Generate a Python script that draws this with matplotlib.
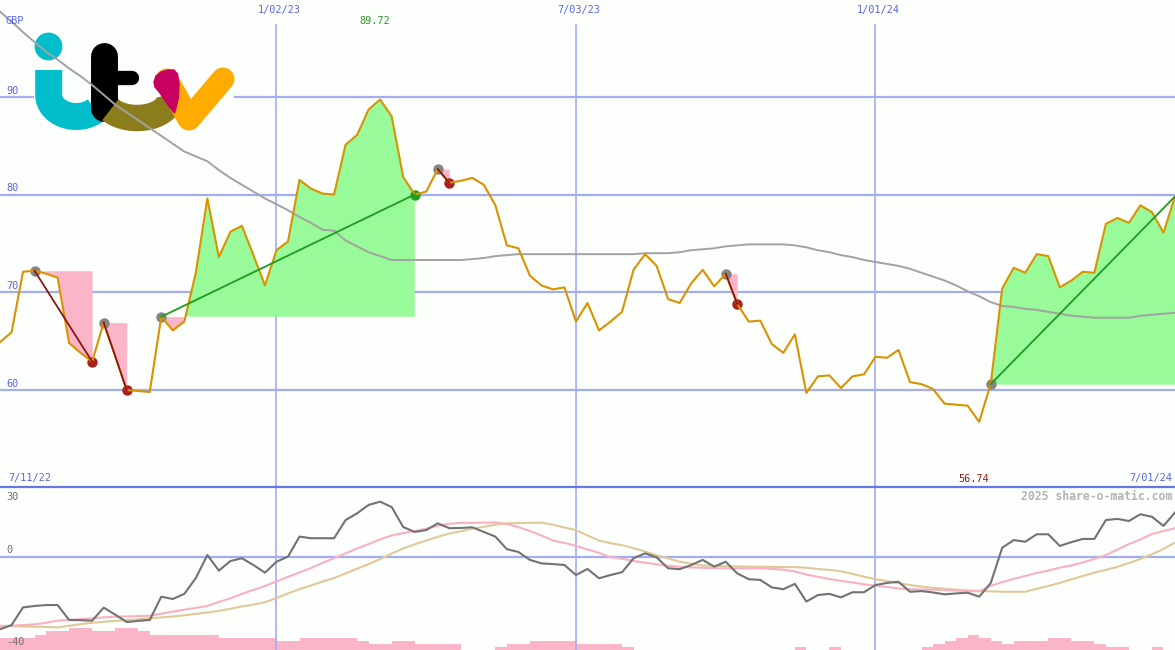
import numpy as np
import matplotlib
matplotlib.use('Agg')
from matplotlib import pyplot as plt
from matplotlib.transforms import Affine2D, blended_transform_factory
from matplotlib.patches import Circle, Rectangle, Polygon
from matplotlib.lines import Line2D

## weekly closes, week 1 = 18/07/22 ... week 103 = 1/07/24
price = [64.9, 65.9, 72.1, 72.2, 71.9, 71.5, 64.8, 63.8, 62.9, 66.9,
         63.5, 60.0, 59.9, 59.8, 67.5, 66.1, 67.0, 72.0, 79.6, 73.6,
         76.2, 76.8, 73.8, 70.7, 74.3, 75.2, 81.5, 80.6, 80.1, 80.0,
         85.1, 86.1, 88.7, 89.72, 88.0, 81.8, 80.0, 80.3, 82.6, 81.2,
         81.4, 81.7, 81.0, 78.9, 74.8, 74.5, 71.7, 70.7, 70.3, 70.5,
         67.0, 68.9, 66.1, 67.0, 68.0, 72.3, 73.9, 72.7, 69.3, 68.9,
         70.9, 72.3, 70.6, 71.9, 68.8, 67.0, 67.1, 64.7, 63.8, 65.7,
         59.7, 61.4, 61.5, 60.2, 61.4, 61.6, 63.4, 63.3, 64.1, 60.8,
         60.6, 60.1, 58.6, 58.5, 58.4, 56.74, 60.6, 70.4, 72.5, 72.0,
         73.9, 73.7, 70.5, 71.2, 72.1, 72.0, 77.0, 77.6, 77.1, 78.9,
         78.2, 76.1, 79.8]

price_ma = [98.7, 97.7, 96.6, 95.6, 94.6, 93.8, 92.9, 92.1, 91.2, 90.2,
            89.2, 88.4, 87.6, 86.8, 86.0, 85.2, 84.4, 83.9, 83.4, 82.5,
            81.7, 81.0, 80.3, 79.6, 79.0, 78.4, 77.7, 77.1, 76.4, 76.3,
            75.3, 74.7, 74.1, 73.7, 73.3, 73.3, 73.3, 73.3, 73.3, 73.3,
            73.3, 73.4, 73.5, 73.7, 73.8, 73.9, 73.9, 73.9, 73.9, 73.9,
            73.9, 73.9, 73.9, 73.9, 73.9, 73.9, 74.0, 74.0, 74.0, 74.1,
            74.3, 74.4, 74.5, 74.7, 74.8, 74.9, 74.9, 74.9, 74.9, 74.8,
            74.6, 74.3, 74.1, 73.8, 73.6, 73.3, 73.1, 72.9, 72.7, 72.4,
            72.0, 71.6, 71.2, 70.7, 70.1, 69.6, 69.0, 68.6, 68.5, 68.3,
            68.2, 68.0, 67.8, 67.6, 67.5, 67.4, 67.4, 67.4, 67.4, 67.6,
            67.7, 67.8, 67.9]

osc = [-31.1, -29.3, -21.7, -21.1, -20.7, -20.7, -27.1, -27.2, -27.4, -21.8,
       -24.8, -28.0, -27.5, -27.1, -17.1, -18.1, -15.9, -9.1, 0.8, -5.9,
       -1.8, -0.6, -3.5, -6.8, -2.1, 0.1, 8.7, 8.0, 8.0, 8.0,
       15.8, 18.7, 22.3, 23.7, 21.4, 12.8, 10.7, 11.5, 14.4, 12.3,
       12.4, 12.7, 10.7, 8.7, 3.3, 2.1, -1.3, -2.8, -3.1, -3.5,
       -7.8, -5.2, -9.2, -7.8, -6.6, -0.6, 1.5, -0.2, -4.9, -5.3,
       -3.5, -1.3, -4.2, -2.1, -7.1, -9.6, -9.9, -13.1, -13.9, -11.6,
       -19.2, -16.4, -15.9, -17.4, -15.2, -15.2, -12.1, -11.2, -10.7, -15.0,
       -14.7, -15.3, -16.1, -15.7, -15.4, -17.1, -11.3, 3.9, 7.2, 6.5,
       9.7, 9.7, 4.7, 6.3, 7.7, 7.7, 15.8, 16.3, 15.4, 18.3,
       17.2, 13.3, 19.0]

osc_fast = [-30.0, -29.6, -29.3, -29.0, -28.3, -27.4, -27.1, -26.7, -26.4, -26.0,
            -25.7, -25.6, -25.4, -25.3, -24.4, -23.5, -22.7, -21.9, -21.1, -19.4,
            -17.8, -15.9, -14.2, -12.5, -10.6, -8.6, -6.7, -4.8, -2.6, -0.5,
            1.5, 3.6, 5.5, 7.5, 9.2, 10.2, 11.1, 12.1, 13.3, 14.2,
            14.6, 14.6, 14.7, 14.8, 14.1, 12.8, 11.1, 9.2, 7.0, 6.0,
            4.7, 3.2, 1.7, -0.2, -0.8, -1.8, -2.5, -3.2, -3.8, -4.3,
            -4.5, -4.7, -4.9, -4.9, -4.9, -4.9, -4.9, -5.2, -5.5, -6.3,
            -7.6, -8.6, -9.5, -10.3, -11.0, -11.8, -12.4, -12.9, -13.6, -13.9,
            -14.0, -14.1, -14.2, -14.5, -14.7, -14.8, -12.5, -10.8, -9.5, -8.2,
            -6.9, -5.9, -4.6, -3.7, -2.4, -0.9, 0.8, 3.1, 5.5, 7.5,
            9.8, 11.1, 12.3]

osc_slow = [-29.6, -29.7, -29.9, -30.0, -30.1, -30.3, -29.6, -28.9, -28.3, -27.9,
            -27.5, -27.1, -26.8, -26.4, -26.0, -25.6, -25.1, -24.5, -23.9, -23.2,
            -22.3, -21.3, -20.5, -19.5, -17.7, -15.7, -13.9, -12.3, -10.6, -9.1,
            -7.1, -5.1, -3.1, -1.0, 1.4, 3.6, 5.4, 7.0, 8.6, 10.0,
            11.0, 12.1, 12.9, 13.8, 14.4, 14.5, 14.6, 14.7, 13.8, 12.6,
            11.5, 9.2, 7.0, 5.9, 5.0, 3.7, 2.3, 0.7, -0.7, -2.1,
            -2.9, -3.7, -3.9, -4.0, -4.1, -4.2, -4.3, -4.3, -4.4, -4.4,
            -4.7, -5.2, -5.6, -6.2, -7.3, -8.5, -9.6, -10.4, -11.3, -12.1,
            -12.8, -13.3, -13.7, -14.1, -14.4, -14.6, -14.8, -15.0, -15.0, -15.0,
            -13.7, -12.5, -11.2, -9.7, -8.2, -6.8, -5.6, -4.3, -2.6, -0.9,
            1.1, 3.4, 6.1]

## bottom pink bars, one per week interval
vol = [5.0, 5.0, 5.0, 6.4, 8.2, 8.2, 9.6, 9.6, 8.2, 8.2,
       9.6, 9.6, 8.2, 6.4, 6.4, 6.4, 6.4, 6.4, 6.4, 5.0,
       5.0, 5.0, 5.0, 5.0, 3.9, 3.9, 5.0, 5.0, 5.0, 5.0,
       5.0, 3.9, 2.6, 2.6, 3.9, 3.9, 2.6, 2.6, 2.6, 2.6,
       0, 0, 0, 1.4, 2.6, 2.6, 3.9, 3.9, 3.9, 3.9,
       2.6, 2.6, 2.6, 2.6, 1.4, 0, 0, 0, 0, 0,
       0, 0, 0, 0, 0, 0, 0, 0, 0, 1.2,
       0, 0, 1.2, 0, 0, 0, 0, 0, 0, 0,
       1.2, 2.6, 3.9, 5.0, 6.4, 5.0, 3.9, 2.6, 3.9, 3.9,
       3.9, 5.0, 5.0, 3.9, 3.9, 2.6, 1.2, 1.2, 0, 0,
       1.2, 0]

## trades: start week, end week, type, closed?
sig_start = [4, 10, 15, 39, 64, 87]
sig_end = [9, 12, 37, 40, 65, 103]
sig_type = ['sell', 'sell', 'buy', 'sell', 'sell', 'buy']
sig_closed = [True, True, True, True, True, False]

date_weeks = [25, 51, 77]
date_labels = ['1/02/23', '7/03/23', '1/01/24']
price_ticks = [60, 70, 80, 90]
osc_ticks = [30, 0, -40]
first_date, last_date = '7/11/22', '7/01/24'

W, H = 1175, 650
split = 487
bg = '#fcfffc'
grid_c = '#a3adf2'
blue_txt = '#5866e6'
mono = 'DejaVu Sans Mono'

fig = plt.figure(figsize=(W / 100, H / 100), dpi=100)
fig.patch.set_facecolor(bg)
px = Affine2D().scale(1 / W, -1 / H).translate(0, 1) + fig.transFigure

ax1 = fig.add_axes([0, (H - split) / H, 1, split / H])
ax2 = fig.add_axes([0, 0, 1, (H - split) / H])
for ax in (ax1, ax2):
    ax.axis('off')

weeks = np.arange(1, len(price) + 1)
price = np.array(price)

## top panel grid
for v in price_ticks:
    ax1.axhline(v, color=grid_c, lw=1.6, zorder=1)
for w in date_weeks:
    ax1.axvline(w, ymin=0, ymax=(split - 25) / split, color=grid_c, lw=1.2, zorder=1)

## logo
ax1.add_patch(Rectangle((34, 33), 200, 104, transform=px, facecolor=bg, edgecolor='none', zorder=2))
teal, olive, magenta, amber = '#00bdcb', '#8b7c1c', '#c8005f', '#ffab00'
ax1.add_patch(Circle((48.5, 46.5), 13.2, transform=px, color=teal, zorder=2.1))
t = np.linspace(np.pi, 0.25 * np.pi, 40)
ax1.add_line(Line2D(np.r_[48.7, 76.2 + 27.5 * np.cos(t)], np.r_[70, 95 + 21.5 * np.sin(t)],
                    transform=px, color=teal, lw=19.4, solid_capstyle='butt', zorder=2.1))
ax1.add_line(Line2D([103.7, 103.7], [56, 108], transform=px, color='black', lw=19.4,
                    solid_capstyle='round', zorder=2.2))
ax1.add_line(Line2D([104, 132], [78, 78], transform=px, color='black', lw=10.3,
                    solid_capstyle='round', zorder=2.2))
t = np.linspace(0.8 * np.pi, -0.05 * np.pi, 40)
ax1.add_line(Line2D(137 + 33 * np.cos(t), 98 + 20 * np.sin(t), transform=px, color=olive,
                    lw=19.0, solid_capstyle='butt', zorder=2.3))
ax1.add_line(Line2D([167, 189, 223], [80, 119, 79], transform=px, color=amber, lw=16.6,
                    solid_capstyle='round', solid_joinstyle='round', zorder=2.4))
ax1.add_patch(Polygon([(154, 82), (156, 76), (161, 72), (168, 70), (174, 70), (177.5, 74),
                       (179, 84), (178.5, 97), (176, 108), (174.5, 113), (168, 105),
                       (160, 93), (155, 87)], closed=True, transform=px, color=magenta, zorder=2.5))

## trade fills, lines and markers
pink, green = '#fab5c9', '#98fa98'
for s, e, kind, closed in zip(sig_start, sig_end, sig_type, sig_closed):
    xs = weeks[s - 1:e]
    ys = price[s - 1:e]
    lvl = price[s - 1]
    ax1.fill_between(xs, ys, lvl, where=ys >= lvl, interpolate=True, color=green, lw=0, zorder=3)
    ax1.fill_between(xs, ys, lvl, where=ys <= lvl, interpolate=True, color=pink, lw=0, zorder=3)
    lc = '#1f9a1f' if kind == 'buy' else '#8e1414'
    ax1.plot([s, e], [price[s - 1], price[e - 1]], color=lc, lw=1.3, zorder=6)
    ax1.plot(s, price[s - 1], 'o', color='#858585', ms=7.5, mec='none', zorder=4.5)
    if closed:
        mc = '#22a022' if kind == 'buy' else '#aa2020'
        ax1.plot(e, price[e - 1], 'o', color=mc, ms=7.5, mec='none', zorder=4.5)

ax1.plot(weeks, price_ma, color='#a2a2a2', lw=1.4, zorder=4)
ax1.plot(weeks, price, color='#d99200', lw=1.5, zorder=5)

ax1.set_xlim(1, 103)
ax1.set_ylim(50.08, 99.9)

## bottom panel
ax2.bar(np.arange(1, len(vol) + 1), vol, width=1, bottom=-40, align='edge', color=pink, lw=0, zorder=1)
ax2.axhline(0, color=grid_c, lw=1.6, zorder=1.5)
for w in date_weeks:
    ax2.axvline(w, color=grid_c, lw=1.2, zorder=1.5)
ax2.plot(weeks, osc_slow, color='#e0c999', lw=1.5, zorder=2)
ax2.plot(weeks, osc_fast, color='#fbb0c2', lw=1.5, zorder=2.1)
ax2.plot(weeks, osc, color='#727272', lw=1.5, zorder=2.2)
ax2.set_xlim(1, 103)
ax2.set_ylim(-40, 30)

fig.add_artist(Line2D([0, W], [split, split], transform=px, color='#6676e6', lw=1.6))

## texts
fs = 7.4
fig.text(6, 21.5, 'GBP', transform=px, ha='left', va='center', color=blue_txt, fontsize=fs, family=mono, zorder=1)
for v in price_ticks:
    ax1.text(6, 390 - (v - 60) * 9.777 - 6, str(v), transform=px, ha='left', va='center',
             color=blue_txt, fontsize=fs, family=mono, zorder=1.5)
bt1 = blended_transform_factory(ax1.transData, px)
for w, lab in zip(date_weeks, date_labels):
    ax1.text(w + 0.27, 9.5, lab, transform=bt1, ha='center', va='center', color=blue_txt,
             fontsize=fs, family=mono)
kmax = int(np.argmax(price)) + 1
kmin = int(np.argmin(price)) + 1
ax1.text(kmax - 0.5, 21, f'{price.max():.2f}', transform=bt1, ha='center', va='center',
         color='#2a9a2a', fontsize=fs, family=mono)
fig.text(8, 478.5, first_date, transform=px, ha='left', va='center', color=blue_txt, fontsize=fs, family=mono)
fig.text(1172, 478.5, last_date, transform=px, ha='right', va='center', color=blue_txt, fontsize=fs, family=mono)
bt2 = blended_transform_factory(ax2.transData, px)
fig.text(0, 0, '')
ax2.text(kmin - 0.5, 478.5, f'{price.min():.2f}', transform=bt2, ha='center', va='center',
         color='#8e1a1a', fontsize=fs, family=mono, clip_on=False)
for v, yp in zip(osc_ticks, [496.5, 550, 642]):
    fig.text(6, yp, str(v), transform=px, ha='left', va='center', color='#707070', fontsize=fs, family=mono)
fig.text(1172, 496, '2025 share-o-matic.com', transform=px, ha='right', va='center',
         color='#b4b4b4', fontsize=8.3, family=mono, fontweight='bold')

fig.savefig('out.png', dpi=100, facecolor=bg)
